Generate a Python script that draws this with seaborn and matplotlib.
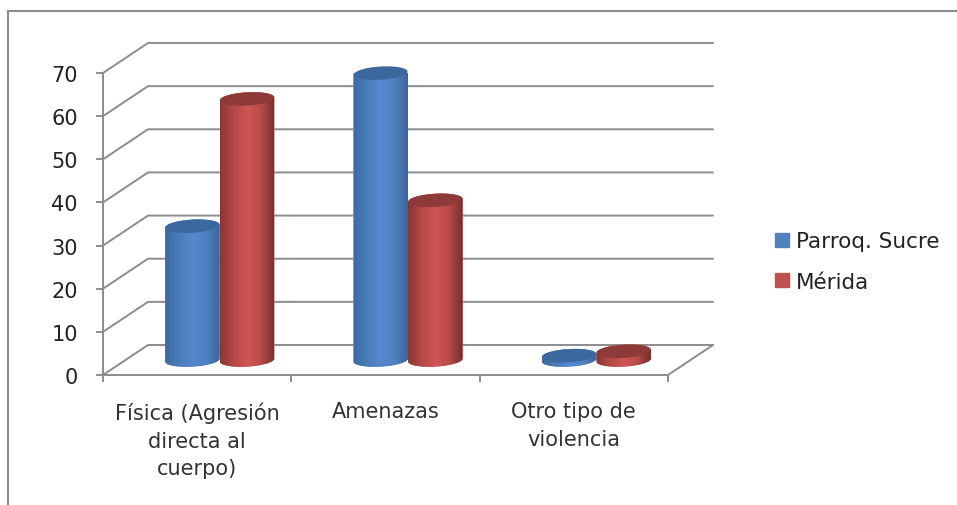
import matplotlib
matplotlib.use("Agg")
import matplotlib.pyplot as plt
from matplotlib.lines import Line2D
from matplotlib.path import Path
from matplotlib.colors import LinearSegmentedColormap
import numpy as np
import pandas as pd
import seaborn as sns

categorias = ["Física (Agresión\ndirecta al\ncuerpo)", "Amenazas", "Otro tipo de\nviolencia"]
parroquia_sucre = [31, 66.5, 1]
merida = [60.5, 37, 2]
series = ["Parroq. Sucre", "Mérida"]
y_ticks = [0, 10, 20, 30, 40, 50, 60, 70]

colores = {"Parroq. Sucre": "#4f81bd", "Mérida": "#c0504d"}
tapas = {"Parroq. Sucre": "#3b689e", "Mérida": "#8e3a38"}
degradados = {
    "Parroq. Sucre": ["#3d6a9f", "#4a7cb8", "#5589cf", "#4f82c2", "#3c669a"],
    "Mérida": ["#8a3635", "#b54947", "#cf5654", "#b84b49", "#742e2d"],
}
GRIS = "#8c8c8c"

sns.set_theme(style="white")
plt.rcParams["font.family"] = ["DejaVu Sans"]

df = pd.DataFrame({
    "categoria": categorias * 2,
    "serie": [series[0]] * 3 + [series[1]] * 3,
    "valor": parroquia_sucre + merida,
})

W, H = 957, 506
fig = plt.figure(figsize=(W / 100, H / 100), dpi=100, facecolor="white")
# The axes span the front plane of the 3D box.
ax = fig.add_axes([103 / W, (H - 376) / H, 565 / W, 302 / H])
ax.patch.set_alpha(0)

sns.barplot(data=df, x="categoria", y="valor", hue="serie", palette=colores,
            hue_order=series, width=0.58, gap=0, saturation=1, ax=ax, zorder=3,
            legend=False)
ax.set_xlim(-0.5, 2.5)
ax.set_ylim(0, 70)
ax.set_xlabel("")
ax.set_ylabel("")

# Depth of the box expressed in data units.
px_x = 188.33
px_y = 302 / 70
fondo_x = 45 / px_x
fondo_y = 30 / px_y

# Back wall, floor and side connectors.
for t in y_ticks:
    ax.plot([-0.5, -0.5 + fondo_x, 2.5 + fondo_x], [t, t + fondo_y, t + fondo_y],
            color=GRIS, lw=1.4, clip_on=False, zorder=1, solid_joinstyle="miter")
ax.plot([2.5, 2.5 + fondo_x], [0, fondo_y], color=GRIS, lw=1.4, clip_on=False, zorder=1)

# Cylinders sit halfway along the depth of the box.
dx, dy = fondo_x / 2, fondo_y / 2
semi_y = 6.6 / px_y
incl = 1.5 / px_y  # rise of the elliptical rims towards the right


def elipse(cx, cy, a, t):
    c = np.cos(t)
    return cx + a * c, cy + semi_y * np.sin(t) + incl * c


n = len(categorias)
for i, barra in enumerate(list(ax.patches)):
    serie = series[i // n]
    x0, ancho, alto = barra.get_x(), barra.get_width(), barra.get_height()
    cx, a = x0 + ancho / 2 + dx, ancho / 2
    base, cima = dy, dy + alto

    # Cylinder outline: upper half of the top rim plus lower half of the bottom rim.
    tx, ty = elipse(cx, cima, a, np.linspace(np.pi, 0, 40))
    bx, by = elipse(cx, base, a, np.linspace(0, -np.pi, 40))
    contorno = Path(np.column_stack([np.r_[tx, bx], np.r_[ty, by]]))

    barra.set_x(x0 + dx)
    barra.set_y(base - semi_y * 2)
    barra.set_height(alto + semi_y * 4)
    barra.set_clip_path(contorno, ax.transData)

    mapa = LinearSegmentedColormap.from_list(serie, degradados[serie])
    img = ax.imshow(np.linspace(0, 1, 128)[None, :], cmap=mapa, aspect="auto",
                    extent=(cx - a, cx + a, base - semi_y * 2, cima + semi_y * 2),
                    zorder=3 + i * 0.01, interpolation="bilinear")
    img.set_clip_path(contorno, ax.transData)

    ex, ey = elipse(cx, cima, a * 0.98, np.linspace(0, 2 * np.pi, 80))
    ax.fill(ex, ey, color=tapas[serie], lw=0, zorder=3.5 + i * 0.01, clip_on=False)

ax.set_xlim(-0.5, 2.5)
ax.set_ylim(0, 70)

# Axis styling.
sns.despine(ax=ax, top=True, right=True)
for lado in ("left", "bottom"):
    ax.spines[lado].set_color(GRIS)
    ax.spines[lado].set_linewidth(1.4)
ax.set_yticks(y_ticks)
ax.set_xticks([-0.5, 0.5, 1.5, 2.5], minor=False)
ax.set_xticklabels([])
ax.tick_params(axis="y", length=5, width=1.4, color=GRIS, left=True, labelsize=15,
               labelcolor="#222222", pad=13)
ax.tick_params(axis="x", length=5, width=1.4, color=GRIS, bottom=True, direction="out")

# Category names are centred under each group of the front plane.
for pos, nombre in enumerate(categorias):
    ax.annotate(nombre, (pos, 0), xytext=(0, -19), textcoords="offset points",
                ha="center", va="top", fontsize=15, color="#333333", linespacing=1.48,
                annotation_clip=False)

# Legend to the right of the box.
manejadores = [plt.Rectangle((0, 0), 1, 1, color=colores[s]) for s in series]
fig.legend(manejadores, series, loc="upper left", bbox_to_anchor=(771 / W, 1 - 228 / H),
           frameon=False, fontsize=15.5, handlelength=0.65, handleheight=0.65,
           handletextpad=0.32, labelspacing=0.95, labelcolor="#222222",
           borderpad=0.2, borderaxespad=0)

# Outer chart frame, cropped on the right and at the bottom.
fig.add_artist(Line2D([8 / W, 8 / W, 1], [0, 1 - 12 / H, 1 - 12 / H], color=GRIS, lw=1.5,
                      solid_joinstyle="miter"))

fig.savefig("out.png", dpi=100)
